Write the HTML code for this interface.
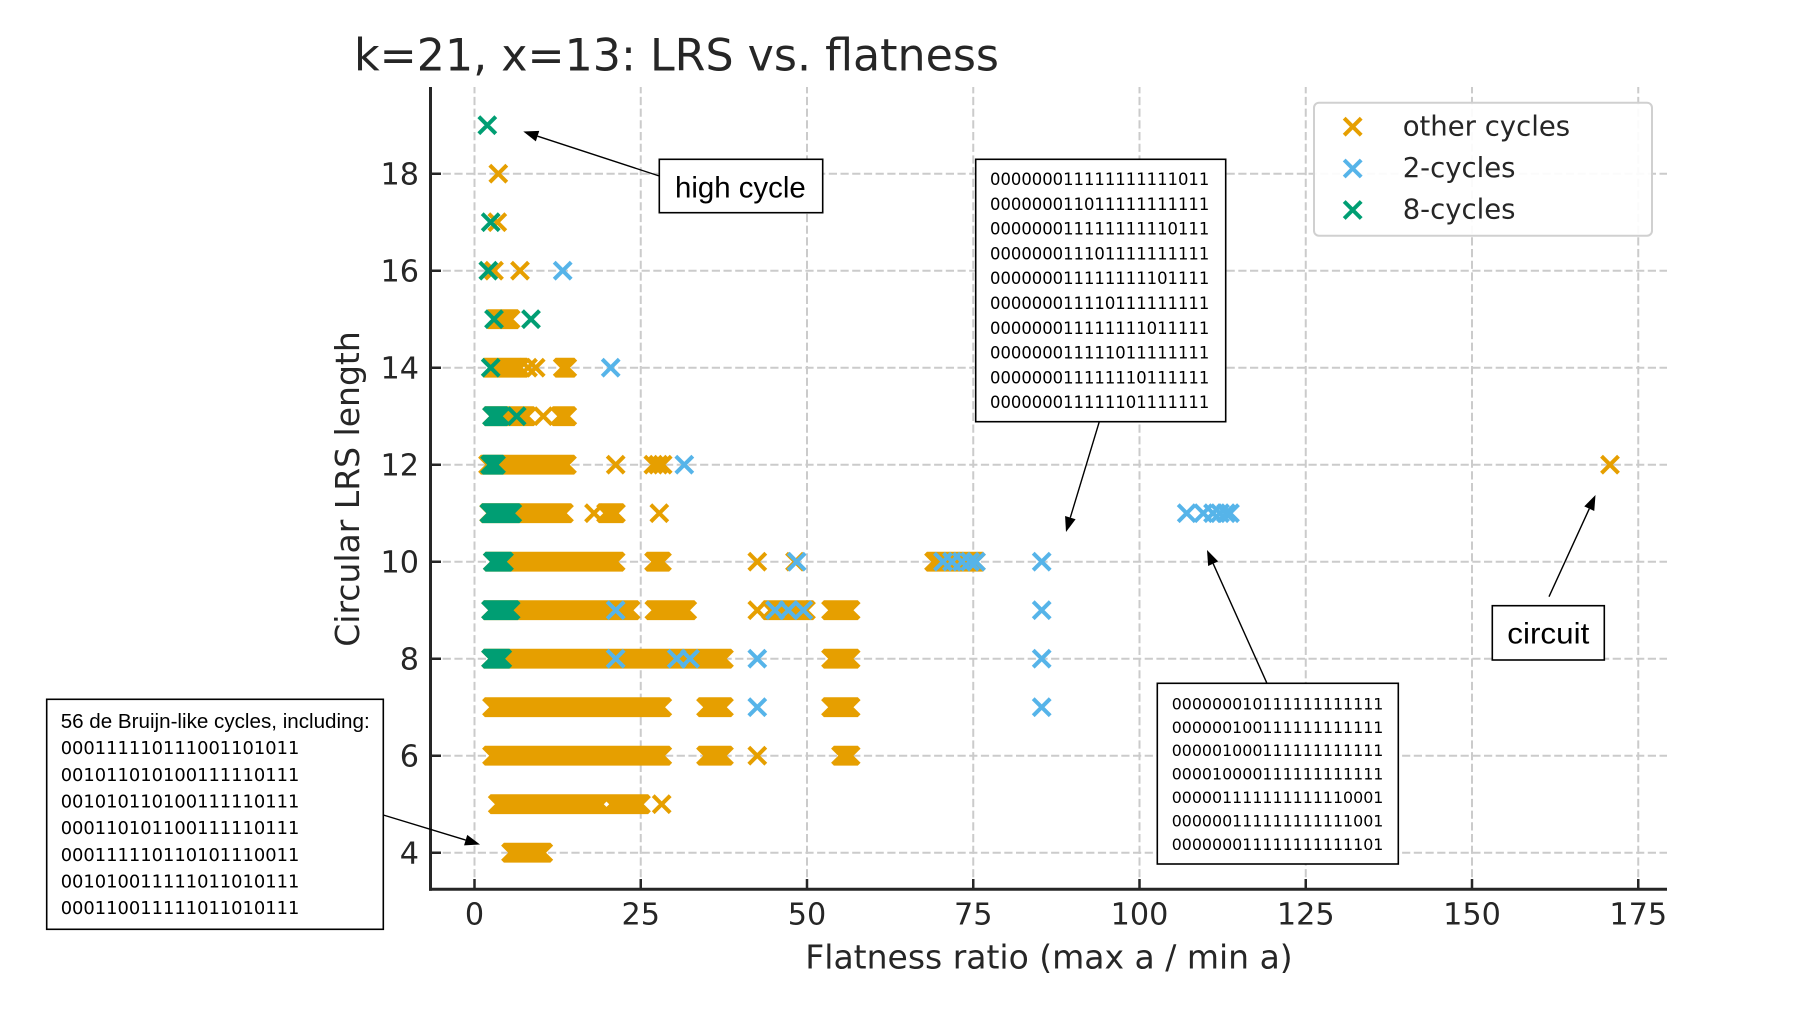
<!DOCTYPE html>
<html>
<head>
<meta charset="utf-8">
<style>
html,body{margin:0;padding:0;background:#fff;}
svg{display:block;}
</style>
</head>
<body>
<svg width="1800" height="1013" viewBox="0 0 1800 1013" xmlns="http://www.w3.org/2000/svg">
<rect x="0" y="0" width="1800" height="1013" fill="#ffffff"/>

<!-- grid -->
<g stroke="#cbcbcb" stroke-width="2" stroke-dasharray="8.2 3.5" fill="none">
  <path d="M474.5 889V87M640.75 889V87M807 889V87M973.25 889V87M1139.5 889V87M1305.75 889V87M1472 889V87M1638.25 889V87"/>
  <path d="M431 852.7H1667M431 755.7H1667M431 658.7H1667M431 561.7H1667M431 464.7H1667M431 367.7H1667M431 270.7H1667M431 173.7H1667"/>
</g>

<!-- other cycles (orange) bars -->
<path fill="#E69F00" d="
M503.9 842.8H550.4l2.8 2.8-7.1 7.1 7.1 7.1-2.8 2.8H503.9l-2.8-2.8 7.1-7.1-7.1-7.1z
M490.6 794.3H608.1l2.8 2.8-7.1 7.1 7.1 7.1-2.8 2.8H490.6l-2.8-2.8 7.1-7.1-7.1-7.1z
M604.9 794.3H648.1l2.8 2.8-7.1 7.1 7.1 7.1-2.8 2.8H604.9l-2.8-2.8 7.1-7.1-7.1-7.1z
M484.9 745.8H669.4l2.8 2.8-7.1 7.1 7.1 7.1-2.8 2.8H484.9l-2.8-2.8 7.1-7.1-7.1-7.1z
M698.9 745.8H731.1l2.8 2.8-7.1 7.1 7.1 7.1-2.8 2.8H698.9l-2.8-2.8 7.1-7.1-7.1-7.1z
M833.9 745.8H857.8l2.8 2.8-7.1 7.1 7.1 7.1-2.8 2.8H833.9l-2.8-2.8 7.1-7.1-7.1-7.1z
M484.9 697.3H669.4l2.8 2.8-7.1 7.1 7.1 7.1-2.8 2.8H484.9l-2.8-2.8 7.1-7.1-7.1-7.1z
M698.9 697.3H731.1l2.8 2.8-7.1 7.1 7.1 7.1-2.8 2.8H698.9l-2.8-2.8 7.1-7.1-7.1-7.1z
M823.9 697.3H857.8l2.8 2.8-7.1 7.1 7.1 7.1-2.8 2.8H823.9l-2.8-2.8 7.1-7.1-7.1-7.1z
M483.9 648.8H731.1l2.8 2.8-7.1 7.1 7.1 7.1-2.8 2.8H483.9l-2.8-2.8 7.1-7.1-7.1-7.1z
M823.9 648.8H857.8l2.8 2.8-7.1 7.1 7.1 7.1-2.8 2.8H823.9l-2.8-2.8 7.1-7.1-7.1-7.1z
M483.9 600.3H637.8l2.8 2.8-7.1 7.1 7.1 7.1-2.8 2.8H483.9l-2.8-2.8 7.1-7.1-7.1-7.1z
M647.2 600.3H694.4l2.8 2.8-7.1 7.1 7.1 7.1-2.8 2.8H647.2l-2.8-2.8 7.1-7.1-7.1-7.1z
M763.9 600.3H813.1l2.8 2.8-7.1 7.1 7.1 7.1-2.8 2.8H763.9l-2.8-2.8 7.1-7.1-7.1-7.1z
M823.9 600.3H857.8l2.8 2.8-7.1 7.1 7.1 7.1-2.8 2.8H823.9l-2.8-2.8 7.1-7.1-7.1-7.1z
M485.6 551.8H622.8l2.8 2.8-7.1 7.1 7.1 7.1-2.8 2.8H485.6l-2.8-2.8 7.1-7.1-7.1-7.1z
M646.9 551.8H669.1l2.8 2.8-7.1 7.1 7.1 7.1-2.8 2.8H646.9l-2.8-2.8 7.1-7.1-7.1-7.1z
M926.9 551.8H983.1l2.8 2.8-7.1 7.1 7.1 7.1-2.8 2.8H926.9l-2.8-2.8 7.1-7.1-7.1-7.1z
M481.9 503.3H571.1l2.8 2.8-7.1 7.1 7.1 7.1-2.8 2.8H481.9l-2.8-2.8 7.1-7.1-7.1-7.1z
M598.9 503.3H623.1l2.8 2.8-7.1 7.1 7.1 7.1-2.8 2.8H598.9l-2.8-2.8 7.1-7.1-7.1-7.1z
M480.9 454.8H574.1l2.8 2.8-7.1 7.1 7.1 7.1-2.8 2.8H480.9l-2.8-2.8 7.1-7.1-7.1-7.1z
M484.9 406.3H533.8l2.8 2.8-7.1 7.1 7.1 7.1-2.8 2.8H484.9l-2.8-2.8 7.1-7.1-7.1-7.1z
M552.9 406.3H574.4l2.8 2.8-7.1 7.1 7.1 7.1-2.8 2.8H552.9l-2.8-2.8 7.1-7.1-7.1-7.1z
M483.9 357.8H527.1l2.8 2.8-7.1 7.1 7.1 7.1-2.8 2.8H483.9l-2.8-2.8 7.1-7.1-7.1-7.1z
M555.6 357.8H574.4l2.8 2.8-7.1 7.1 7.1 7.1-2.8 2.8H555.6l-2.8-2.8 7.1-7.1-7.1-7.1z
M487.9 309.3H517.8l2.8 2.8-7.1 7.1 7.1 7.1-2.8 2.8H487.9l-2.8-2.8 7.1-7.1-7.1-7.1z
"/>
<!-- other cycles singles -->
<path fill="none" stroke="#E69F00" stroke-width="4" d="
M653.2 795.7l17 17m0-17l-17 17
M748.8 747.2l17 17m0-17l-17 17
M748.8 601.7l17 17m0-17l-17 17
M748.8 553.2l17 17m0-17l-17 17
M786.5 553.2l17 17m0-17l-17 17
M585.5 504.7l17 17m0-17l-17 17
M650.8 504.7l17 17m0-17l-17 17
M607.2 456.2l17 17m0-17l-17 17
M644.8 456.2l17 17m0-17l-17 17
M649.8 456.2l17 17m0-17l-17 17
M654.2 456.2l17 17m0-17l-17 17
M1601.5 456.2l17 17m0-17l-17 17
M534.8 407.7l17 17m0-17l-17 17
M519.5 359.2l17 17m0-17l-17 17
M527.2 359.2l17 17m0-17l-17 17
M485.5 262.2l17 17m0-17l-17 17
M511.5 262.2l17 17m0-17l-17 17
M488.8 213.7l17 17m0-17l-17 17
M489.8 165.2l17 17m0-17l-17 17
"/>

<!-- 2-cycles (blue) -->
<path fill="none" stroke="#56B4E9" stroke-width="4" d="
M748.8 698.7l17 17m0-17l-17 17
M1033.2 698.7l17 17m0-17l-17 17
M607.2 650.2l17 17m0-17l-17 17
M668.2 650.2l17 17m0-17l-17 17
M681.5 650.2l17 17m0-17l-17 17
M748.8 650.2l17 17m0-17l-17 17
M1033.2 650.2l17 17m0-17l-17 17
M607.2 601.7l17 17m0-17l-17 17
M766.5 601.7l17 17m0-17l-17 17
M779.8 601.7l17 17m0-17l-17 17
M794.8 601.7l17 17m0-17l-17 17
M1033.2 601.7l17 17m0-17l-17 17
M788.2 553.2l17 17m0-17l-17 17
M934.5 553.2l17 17m0-17l-17 17
M943.5 553.2l17 17m0-17l-17 17
M953.5 553.2l17 17m0-17l-17 17
M961.5 553.2l17 17m0-17l-17 17
M967.5 553.2l17 17m0-17l-17 17
M1033.2 553.2l17 17m0-17l-17 17
M1178.2 504.7l17 17m0-17l-17 17
M1194.8 504.7l17 17m0-17l-17 17
M1204.5 504.7l17 17m0-17l-17 17
M1211.5 504.7l17 17m0-17l-17 17
M1217.5 504.7l17 17m0-17l-17 17
M1221.5 504.7l17 17m0-17l-17 17
M675.8 456.2l17 17m0-17l-17 17
M602.2 359.2l17 17m0-17l-17 17
M554.2 262.2l17 17m0-17l-17 17
"/>

<!-- 8-cycles (green) -->
<path fill="#009E73" d="
M483.9 648.8H509.4l2.8 2.8-7.1 7.1 7.1 7.1-2.8 2.8H483.9l-2.8-2.8 7.1-7.1-7.1-7.1z
M483.9 600.3H517.8l2.8 2.8-7.1 7.1 7.1 7.1-2.8 2.8H483.9l-2.8-2.8 7.1-7.1-7.1-7.1z
M485.6 551.8H511.1l2.8 2.8-7.1 7.1 7.1 7.1-2.8 2.8H485.6l-2.8-2.8 7.1-7.1-7.1-7.1z
M482.2 503.3H519.4l2.8 2.8-7.1 7.1 7.1 7.1-2.8 2.8H482.2l-2.8-2.8 7.1-7.1-7.1-7.1z
M482.9 454.8H503.1l2.8 2.8-7.1 7.1 7.1 7.1-2.8 2.8H482.9l-2.8-2.8 7.1-7.1-7.1-7.1z
M484.9 406.3H507.1l2.8 2.8-7.1 7.1 7.1 7.1-2.8 2.8H484.9l-2.8-2.8 7.1-7.1-7.1-7.1z
"/>
<path fill="none" stroke="#009E73" stroke-width="4" d="
M508.2 407.7l17 17m0-17l-17 17
M482.2 359.2l17 17m0-17l-17 17
M485.5 310.7l17 17m0-17l-17 17
M522.5 310.7l17 17m0-17l-17 17
M479.8 262.2l17 17m0-17l-17 17
M482.2 213.7l17 17m0-17l-17 17
M478.8 116.7l17 17m0-17l-17 17
"/>

<!-- spines -->
<g stroke="#262626" fill="none">
  <path d="M430.5 87V890.8" stroke-width="3"/>
  <path d="M429 889.3H1667" stroke-width="3"/>
  <path stroke-width="2.5" d="M474.5 889V879M640.75 889V879M807 889V879M973.25 889V879M1139.5 889V879M1305.75 889V879M1472 889V879M1638.25 889V879"/>
  <path stroke-width="2.5" d="M431 852.7H441M431 755.7H441M431 658.7H441M431 561.7H441M431 464.7H441M431 367.7H441M431 270.7H441M431 173.7H441"/>
</g>

<!-- tick labels -->
<g font-family="'DejaVu Sans', 'Liberation Sans', sans-serif" font-size="30.25" fill="#262626">
  <g text-anchor="middle">
    <text x="474.5" y="924.5">0</text>
    <text x="640.75" y="924.5">25</text>
    <text x="807" y="924.5">50</text>
    <text x="973.25" y="924.5">75</text>
    <text x="1139.5" y="924.5">100</text>
    <text x="1305.75" y="924.5">125</text>
    <text x="1472" y="924.5">150</text>
    <text x="1638.25" y="924.5">175</text>
  </g>
  <g text-anchor="end">
    <text x="419" y="863.7">4</text>
    <text x="419" y="766.7">6</text>
    <text x="419" y="669.7">8</text>
    <text x="419" y="572.7">10</text>
    <text x="419" y="475.7">12</text>
    <text x="419" y="378.7">14</text>
    <text x="419" y="281.7">16</text>
    <text x="419" y="184.7">18</text>
  </g>
</g>

<!-- axis labels & title -->
<g font-family="'DejaVu Sans', 'Liberation Sans', sans-serif" fill="#262626">
  <text x="1049" y="968.7" font-size="33" text-anchor="middle">Flatness ratio (max a / min a)</text>
  <text transform="translate(359,489) rotate(-90)" font-size="33" text-anchor="middle">Circular LRS length</text>
  <text x="354" y="70.7" font-size="44.3">k=21, x=13: LRS vs. flatness</text>
</g>

<!-- legend -->
<rect x="1314" y="102.7" width="338" height="133" rx="5" ry="5" fill="#ffffff" fill-opacity="0.92" stroke="#d0d0d0" stroke-width="2"/>
<path fill="none" stroke="#E69F00" stroke-width="4" d="M1344.2 118.2l17 17m0-17l-17 17"/>
<path fill="none" stroke="#56B4E9" stroke-width="4" d="M1344.2 160l17 17m0-17l-17 17"/>
<path fill="none" stroke="#009E73" stroke-width="4" d="M1344.2 201.5l17 17m0-17l-17 17"/>
<g font-family="'DejaVu Sans', 'Liberation Sans', sans-serif" font-size="27.5" fill="#262626">
  <text x="1402.7" y="135.5">other cycles</text>
  <text x="1402.7" y="177">2-cycles</text>
  <text x="1402.7" y="218.5">8-cycles</text>
</g>

<!-- arrows -->
<g stroke="#000" stroke-width="1.4" fill="none">
  <path d="M659.3 176L537.6 136.2"/>
  <path d="M1099.3 421.7L1070.3 517.6"/>
  <path d="M1266.7 682.7L1213.2 563.7"/>
  <path d="M1549 596.7L1589.3 508.7"/>
  <path d="M383.3 815L465.7 840.1"/>
</g>
<g fill="#000">
  <polygon points="523.3,131.5 539.27,130.93 535.85,141.39"/>
  <polygon points="1066,532 1075.61,519.23 1065.07,516.05"/>
  <polygon points="1207,550 1218.17,561.42 1208.13,565.94"/>
  <polygon points="1595.5,495 1594.26,510.94 1584.26,506.36"/>
  <polygon points="480,844.5 464.05,845.38 467.25,834.86"/>
</g>

<!-- annotation boxes -->
<g fill="#ffffff" stroke="#000" stroke-width="1.6">
  <rect x="659.3" y="159.3" width="163.4" height="53.4"/>
  <rect x="975.7" y="159.3" width="250" height="262.4"/>
  <rect x="1157.3" y="683.3" width="241" height="180.7"/>
  <rect x="1492.3" y="605.7" width="112" height="54.3"/>
  <rect x="46.7" y="699.3" width="336.6" height="230"/>
</g>

<g fill="#000" font-family="'Liberation Sans', 'DejaVu Sans', sans-serif">
  <text x="675" y="197.3" font-size="30" textLength="130.7" lengthAdjust="spacingAndGlyphs">high cycle</text>
  <text x="1507.3" y="643.3" font-size="30" textLength="82" lengthAdjust="spacingAndGlyphs">circuit</text>
  <text x="60.7" y="728" font-size="20.6" textLength="309" lengthAdjust="spacingAndGlyphs">56 de Bruijn-like cycles, including:</text>
</g>

<g fill="#000" font-family="'DejaVu Sans', 'Liberation Sans', sans-serif">
  <g font-size="16.4">
    <text x="990" y="185" textLength="219.3" lengthAdjust="spacingAndGlyphs">000000011111111111011</text>
    <text x="990" y="209.8" textLength="219.3" lengthAdjust="spacingAndGlyphs">000000011011111111111</text>
    <text x="990" y="234.6" textLength="219.3" lengthAdjust="spacingAndGlyphs">000000011111111110111</text>
    <text x="990" y="259.4" textLength="219.3" lengthAdjust="spacingAndGlyphs">000000011101111111111</text>
    <text x="990" y="284.2" textLength="219.3" lengthAdjust="spacingAndGlyphs">000000011111111101111</text>
    <text x="990" y="309" textLength="219.3" lengthAdjust="spacingAndGlyphs">000000011110111111111</text>
    <text x="990" y="333.8" textLength="219.3" lengthAdjust="spacingAndGlyphs">000000011111111011111</text>
    <text x="990" y="358.6" textLength="219.3" lengthAdjust="spacingAndGlyphs">000000011111011111111</text>
    <text x="990" y="383.4" textLength="219.3" lengthAdjust="spacingAndGlyphs">000000011111110111111</text>
    <text x="990" y="408.2" textLength="219.3" lengthAdjust="spacingAndGlyphs">000000011111101111111</text>
  </g>
  <g font-size="15.85">
    <text x="1171.7" y="709.3" textLength="211.7" lengthAdjust="spacingAndGlyphs">000000010111111111111</text>
    <text x="1171.7" y="732.75" textLength="211.7" lengthAdjust="spacingAndGlyphs">000000100111111111111</text>
    <text x="1171.7" y="756.2" textLength="211.7" lengthAdjust="spacingAndGlyphs">000001000111111111111</text>
    <text x="1171.7" y="779.65" textLength="211.7" lengthAdjust="spacingAndGlyphs">000010000111111111111</text>
    <text x="1171.7" y="803.1" textLength="211.7" lengthAdjust="spacingAndGlyphs">000001111111111110001</text>
    <text x="1171.7" y="826.55" textLength="211.7" lengthAdjust="spacingAndGlyphs">000000111111111111001</text>
    <text x="1171.7" y="850" textLength="211.7" lengthAdjust="spacingAndGlyphs">000000011111111111101</text>
  </g>
  <g font-size="17.9">
    <text x="60.7" y="754.2" textLength="238.7" lengthAdjust="spacingAndGlyphs">000111110111001101011</text>
    <text x="60.7" y="780.8" textLength="238.7" lengthAdjust="spacingAndGlyphs">001011010100111110111</text>
    <text x="60.7" y="807.5" textLength="238.7" lengthAdjust="spacingAndGlyphs">001010110100111110111</text>
    <text x="60.7" y="834.1" textLength="238.7" lengthAdjust="spacingAndGlyphs">000110101100111110111</text>
    <text x="60.7" y="860.8" textLength="238.7" lengthAdjust="spacingAndGlyphs">000111110110101110011</text>
    <text x="60.7" y="887.4" textLength="238.7" lengthAdjust="spacingAndGlyphs">001010011111011010111</text>
    <text x="60.7" y="914.1" textLength="238.7" lengthAdjust="spacingAndGlyphs">000110011111011010111</text>
  </g>
</g>
</svg>
</body>
</html>
